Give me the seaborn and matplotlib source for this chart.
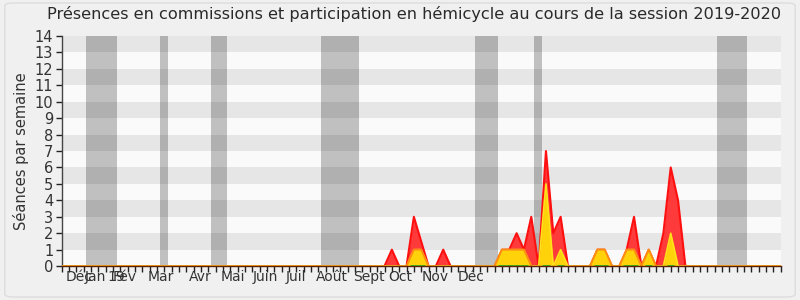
import numpy as np
import pandas as pd
import matplotlib
matplotlib.use("Agg")
import matplotlib.pyplot as plt
import seaborn as sns
from matplotlib.patches import FancyBboxPatch

# ---------------- data ----------------
n_weeks = 98
red_weeks = [45, 48, 49, 52, 60, 61, 62, 63, 64, 66, 67, 68, 73, 74, 77, 78, 80, 82, 83, 84]
red_vals = [1, 3, 1.5, 1, 1, 1, 2, 1, 3, 7, 2, 3, 1, 1, 1, 3, 1, 2, 6, 4]
yellow_weeks = [48, 49, 60, 61, 62, 63, 66, 68, 73, 74, 77, 78, 80, 83]
yellow_vals = [1, 1, 1, 1, 1, 1, 5, 1, 1, 1, 1, 1, 1, 2]
orange_weeks = [47, 48, 49, 50, 59, 60, 61, 62, 63, 64, 72, 73, 74, 75, 76, 77, 78, 79, 80, 81]
orange_vals = [0, 1, 1, 0, 0, 1, 1, 1, 1, 0, 0, 1, 1, 0, 0, 1, 1, 0, 1, 0]
orange_block = [0, 0, 0, 0, 1, 1, 1, 1, 1, 1, 2, 2, 2, 2, 3, 3, 3, 3, 3, 3]
vac_start = [3.3, 13.4, 20.35, 35.35, 56.35, 64.35, 89.3]
vac_end = [7.55, 14.5, 22.55, 40.5, 59.45, 65.45, 93.4]
month_labels = ["Déc", "Jan", "19", "Fév", "Mar", "Avr", "Mai", "Juin", "Juil",
                "Août", "Sept", "Oct", "Nov", "Déc"]
month_pos = [2.35, 4.65, 7.4, 8.6, 13.5, 18.85, 23.3, 27.8, 31.9, 36.8, 41.9, 46.2, 50.9, 55.8]
y_ticks = list(range(0, 15))

title = "Présences en commissions et participation en hémicycle au cours de la session 2019-2020"
ylabel = "Séances par semaine"

# ---------------- build series ----------------
weeks = np.arange(0, n_weeks + 1)
red = np.zeros(len(weeks))
red[red_weeks] = red_vals
yellow = np.zeros(len(weeks))
yellow[yellow_weeks] = yellow_vals
df = pd.DataFrame({"week": weeks, "red": red, "yellow": yellow})
df_or = pd.DataFrame({"week": orange_weeks, "val": orange_vals, "block": orange_block})

sns.set_theme(style="white")
plt.rcParams["font.family"] = ["DejaVu Sans"]

fig = plt.figure(figsize=(8, 3), dpi=100, facecolor="#f0f0f0")
fig.patches.append(FancyBboxPatch((0.006, 0.01), 0.988, 0.98, boxstyle="round,pad=0,rounding_size=0.01",
                                  transform=fig.transFigure, facecolor="#f0f0f0",
                                  edgecolor="#dddddd", linewidth=1, zorder=-10))
ax = fig.add_axes([0.077, 0.113, 0.899, 0.767])
ax.set_facecolor("#fafafa")

# horizontal stripes
for k in y_ticks[1::2]:
    ax.axhspan(k, k + 1, color="#e6e6e6", lw=0, zorder=0)
# vacation bands
for s, e in zip(vac_start, vac_end):
    ax.axvspan(s, e, color="#000000", alpha=0.23, lw=0, zorder=1)

# areas
ax.fill_between(df["week"], df["red"], color="#ff3a3a", lw=0, zorder=3)
sns.lineplot(data=df, x="week", y="red", color="#ff1010", lw=1.5, ax=ax, zorder=4)
ax.fill_between(df["week"], df["yellow"], color="#ffd20a", lw=0, zorder=5)
sns.lineplot(data=df, x="week", y="yellow", color="#ffe21a", lw=1.2, ax=ax, zorder=6)
sns.lineplot(data=df_or, x="week", y="val", units="block", estimator=None,
             color="#ff8c10", lw=1.3, ax=ax, zorder=7)
# green zero-series under participation areas
mask = df["yellow"] > 0
ax.hlines(np.zeros(mask.sum()), df["week"][mask] - 0.5, df["week"][mask] + 0.5,
          color="#22bb22", lw=2, zorder=8)

ax.set_xlim(0, n_weeks)
ax.set_ylim(0, 14)
ax.set_yticks(y_ticks)
ax.set_yticklabels([str(v) for v in y_ticks], fontsize=10.5, color="#333333")
ax.set_xticks(weeks)
ax.set_xticklabels([])
ax.set_xticks(month_pos, minor=True)
ax.set_xticklabels(month_labels, minor=True, fontsize=10, color="#333333")
ax.tick_params(axis="x", which="major", direction="out", length=4, width=1, color="#222222", bottom=True)
ax.tick_params(axis="x", which="minor", length=0, pad=3, bottom=True)
ax.tick_params(axis="y", direction="out", length=4, width=1, color="#222222", pad=2, left=True)
ax.set_xlabel("")
ax.set_ylabel(ylabel, fontsize=10.5, color="#333333", labelpad=4)

for side in ["top", "right"]:
    ax.spines[side].set_visible(False)
ax.spines["left"].set_color("#444444")
ax.spines["left"].set_linewidth(1)
ax.spines["bottom"].set_color("#5c1f0a")
ax.spines["bottom"].set_linewidth(1)
ax.spines["bottom"].set_zorder(9)

fig.text(0.517, 0.953, title, ha="center", va="center", fontsize=11.6, color="#2a2a2a")

fig.savefig("out.png", dpi=100, facecolor=fig.get_facecolor())
